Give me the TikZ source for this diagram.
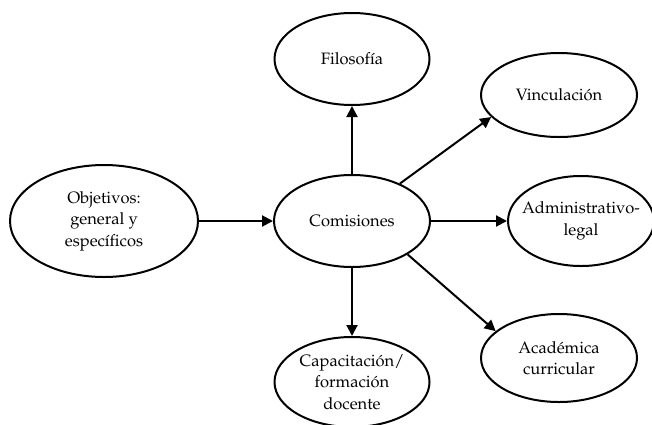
\documentclass[tikz,border=0pt]{standalone}
\usepackage[T1]{fontenc}
\usepackage{mathpazo}
\usetikzlibrary{arrows.meta, shapes.geometric, positioning}
\tikzset{topic/.style={ellipse, draw, line width=2pt, minimum width=155pt, minimum height=90pt, inner sep=0pt, align=center, font=\fontsize{16.5}{21.5}\selectfont}}

\begin{document}
\begin{tikzpicture}[x=1pt, y=-1pt, >={Triangle[length=11pt,width=11pt]}, line width=2pt, node distance=68pt]
\useasboundingbox (0,0) rectangle (652,424);
\node[topic, minimum width=188pt, minimum height=112pt] (obj) at (104,221) {Objetivos:\\general y\\espec\'{\i}ficos};
\node[topic, minimum width=156pt, minimum height=92pt, right=74pt of obj] (com) {Comisiones};
\node[topic, minimum height=92pt, above=of com] (fil) {Filosof\'{\i}a};
\node[topic, below=of com] (cap) {Capacitaci\'on/\\formaci\'on\\docente};
\node[topic, minimum width=146pt, inner xsep=-8pt, right=76pt of com] (adm) {Administrativo-\\legal};
\node[topic, minimum width=156pt, minimum height=84pt, above=37pt of adm, xshift=-22pt] (vin) {Vinculaci\'on};
\node[topic, minimum width=156pt, minimum height=88pt, below=46pt of adm, xshift=-22pt] (aca) {Acad\'emica\\curricular};
\draw[->] (obj) -- (com);
\draw[->] (com) -- (fil);
\draw[->] (com) -- (cap);
\draw[->] (com) -- (adm);
\draw[->] (com.38) -- (vin.198);
\draw[->] (com.-31) -- (aca.157);
\end{tikzpicture}
\end{document}
